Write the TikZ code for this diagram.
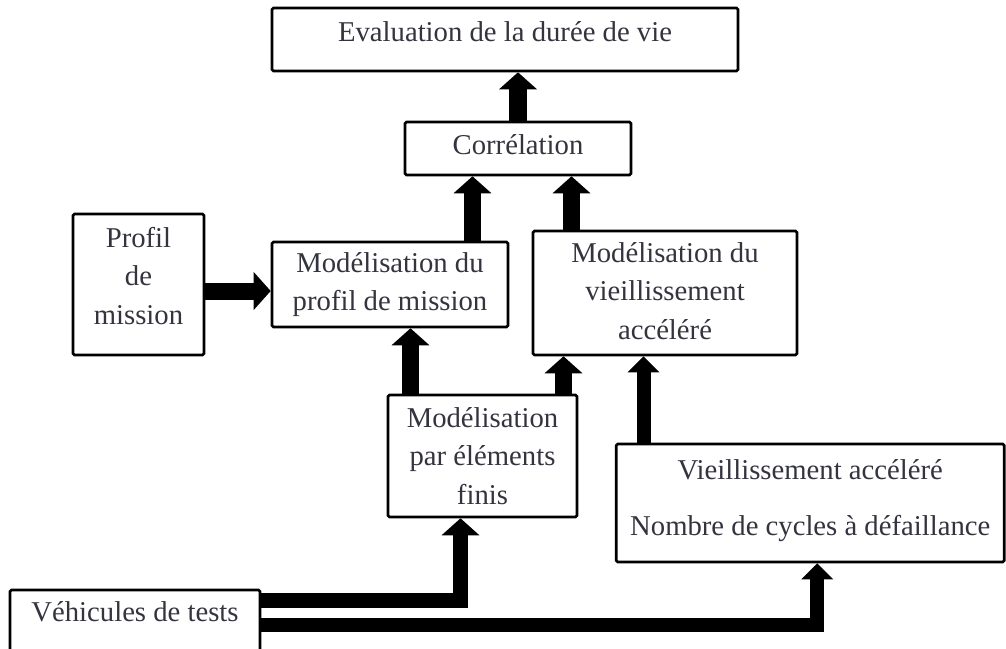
\documentclass[tikz,border=0pt]{standalone}
\usepackage{fontspec}
\setmainfont{Liberation Serif}
\usetikzlibrary{arrows.meta}
\definecolor{inkgray}{HTML}{34343F}
\newcommand{\lowpad}[1]{\rule[-#1]{0pt}{#1}}
\tikzset{
  box/.style={draw=black, line width=2.6pt, rounded corners=1.5pt, fill=white,
              align=center, inner sep=2pt, text=inkgray,
              font=\fontsize{28.7}{38.5}\selectfont},
  fatarrow/.style={line width=17pt, line join=miter, draw=black,
                   -{Triangle[width=37pt,length=17pt]}},
  slimarrow/.style={line width=14pt, line join=miter, draw=black,
                    -{Triangle[width=31pt,length=16pt]}},
}
\begin{document}
\begin{tikzpicture}[x=1pt, y=-1pt]
  \useasboundingbox (0,0) rectangle (1006,648);
  % boxes
  \node (eval) [box, minimum width=466pt, minimum height=63pt] at (505,39.5)
    {Evaluation de la durée de vie\lowpad{15pt}};
  \node (corr) [box, minimum width=226pt, minimum height=53pt] at (518,148.5)
    {Corrélation\lowpad{7pt}};
  \node (pm) [box, minimum width=131pt, minimum height=141pt] at (138.5,284.5)
    {Profil\\de\\mission\lowpad{18pt}};
  \node (mp) [box, minimum width=236pt, minimum height=85pt] at (390,284.5)
    {Modélisation du\\profil de mission};
  \node (mv) [box, minimum width=264pt, minimum height=124pt] at (665,293)
    {Modélisation du\\vieillissement\\accéléré\lowpad{4pt}};
  \node (ef) [box, minimum width=189pt, minimum height=122pt] at (482.5,456)
    {Modélisation\\par éléments\\finis};
  \node (va) [box, minimum width=388pt, minimum height=118pt] at (810.25,503)
    {Vieillissement accéléré\\[17.5pt]Nombre de cycles à défaillance\lowpad{10pt}};
  \node (veh) [box, minimum width=250pt, minimum height=76pt] at (135,628)
    {Véhicules de tests\lowpad{32pt}};
  % arrows
  \coordinate (c1) at ([xshift=-45.5pt]corr.south);
  \coordinate (c2) at ([xshift=53.5pt]corr.south);
  \coordinate (c3) at ([xshift=20.5pt]mp.south);
  \coordinate (c4) at ([xshift=-101.5pt]mv.south);
  \coordinate (c5) at ([xshift=-21.5pt]mv.south);
  \draw[fatarrow, line width=18pt] (corr.north) -- (corr.north |- eval.south);
  \draw[fatarrow] (mp.north -| c1) -- (c1);
  \draw[fatarrow] (mv.north -| c2) -- (c2);
  \draw[fatarrow] ([yshift=-6.5pt]pm.east) -- ([yshift=-6.5pt]mp.west);
  \draw[fatarrow] (ef.north -| c3) -- (c3);
  \draw[fatarrow] (ef.north -| c4) -- (c4);
  \draw[slimarrow] (va.north -| c5) -- (c5);
  \draw[fatarrow, line width=15.5pt] ([yshift=-12pt]veh.north east) -| ([xshift=-22pt]ef.south);
  \draw[slimarrow] ([yshift=-36pt]veh.north east) -| ([xshift=7pt]va.south);
\end{tikzpicture}
\end{document}
